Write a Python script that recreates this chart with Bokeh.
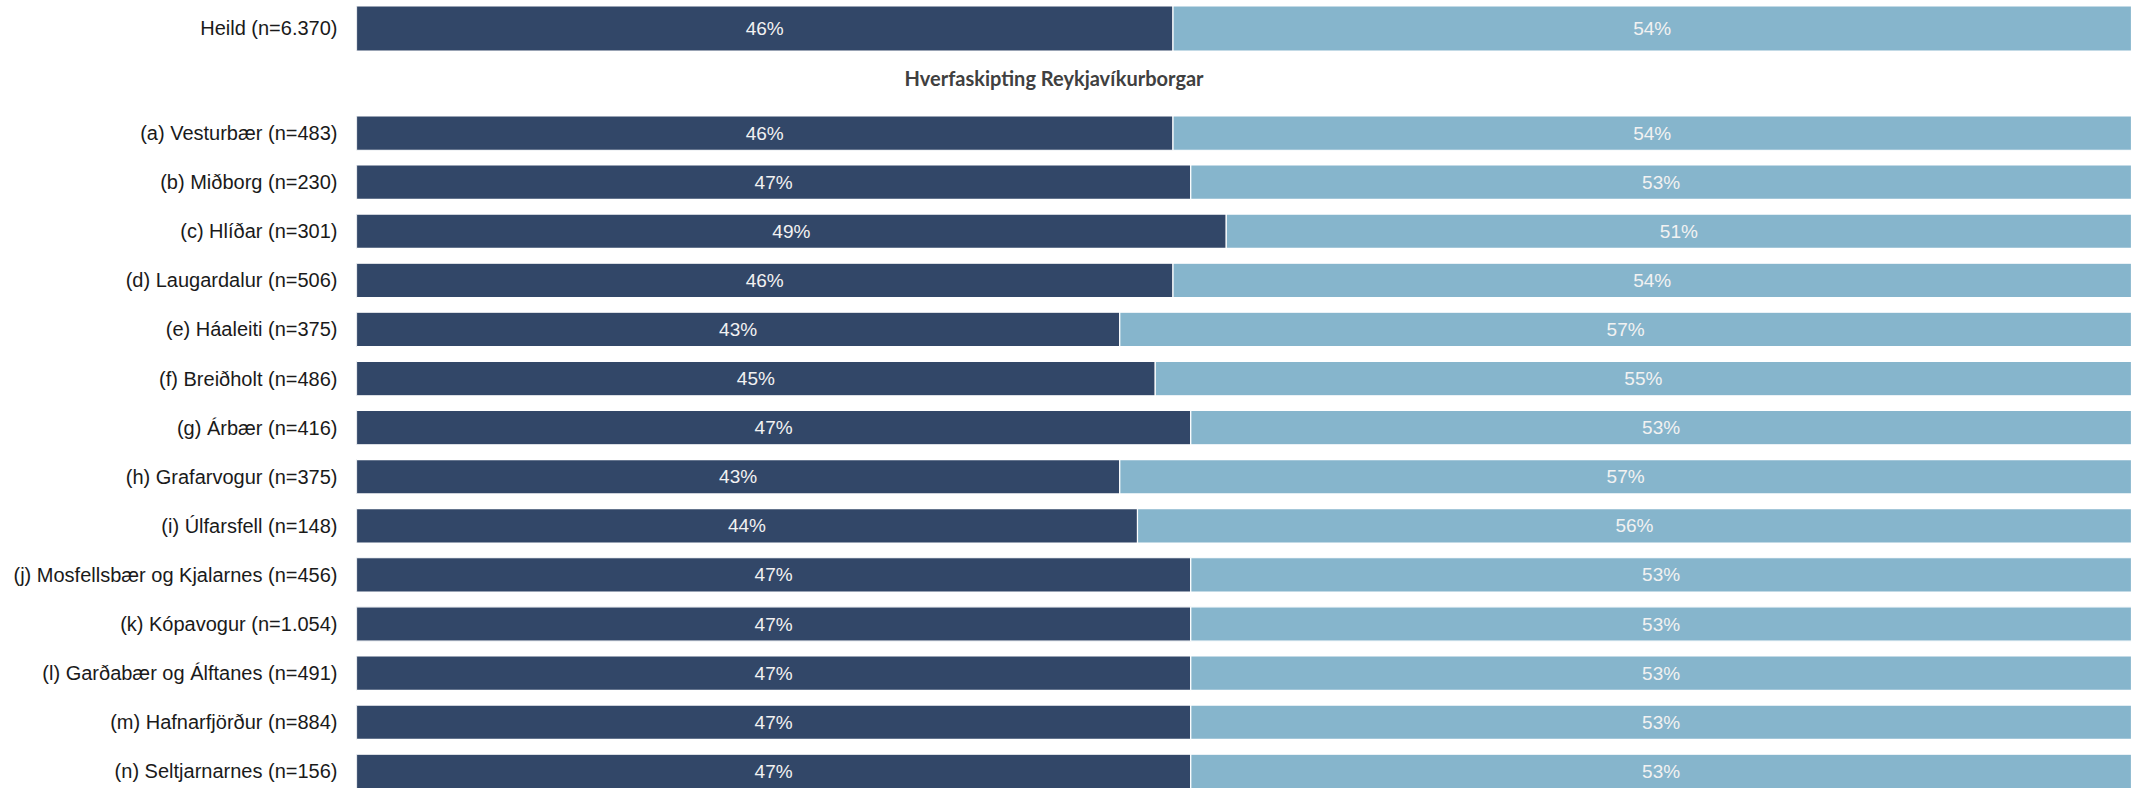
from bokeh.plotting import figure
from bokeh.models import ColumnDataSource, Range1d, FixedTicker, Label
from bokeh.core.properties import value
from bokeh.embed import file_html
from bokeh.resources import INLINE

# ---- data ----
total_label = "Heild (n=6.370)"
total_dark = 46
total_light = 54
section_title = "Hverfaskipting Reykjavíkurborgar"
districts = [
    "(a) Vesturbær (n=483)",
    "(b) Miðborg (n=230)",
    "(c) Hlíðar (n=301)",
    "(d) Laugardalur (n=506)",
    "(e) Háaleiti (n=375)",
    "(f) Breiðholt (n=486)",
    "(g) Árbær (n=416)",
    "(h) Grafarvogur (n=375)",
    "(i) Úlfarsfell (n=148)",
    "(j) Mosfellsbær og Kjalarnes (n=456)",
    "(k) Kópavogur (n=1.054)",
    "(l) Garðabær og Álftanes (n=491)",
    "(m) Hafnarfjörður (n=884)",
    "(n) Seltjarnarnes (n=156)",
]
dark_share = [46, 47, 49, 46, 43, 45, 47, 43, 44, 47, 47, 47, 47, 47]
light_share = [54, 53, 51, 54, 57, 55, 53, 57, 56, 53, 53, 53, 53, 53]

DARK = "#324768"
LIGHT = "#86B5CC"

# ---- layout (row units) ----
heild_y = -2.13
rows = list(range(len(districts)))

labels = [total_label] + districts
ys = [heild_y] + rows
dark = [total_dark] + dark_share
light = [total_light] + light_share
heights = [0.917] + [0.70] * len(districts)

src = ColumnDataSource(dict(
    y=ys,
    h=heights,
    dark=dark,
    light=light,
    total=[a + b for a, b in zip(dark, light)],
    dark_mid=[a / 2 for a in dark],
    light_mid=[a + b / 2 for a, b in zip(dark, light)],
    dark_txt=[f"{a}%" for a in dark],
    light_txt=[f"{b}%" for b in light],
))

p = figure(
    width=2131, height=788,
    x_range=Range1d(0, 100), y_range=Range1d(13.35, -2.70),
    output_backend="svg", toolbar_location=None,
    min_border_left=356, min_border_right=0, min_border_top=0, min_border_bottom=0,
)
p.outline_line_color = None
p.grid.visible = False
p.xaxis.visible = False

p.hbar(y="y", height="h", left=0, right="dark", source=src,
       fill_color=DARK, line_color="white", line_width=1.2)
p.hbar(y="y", height="h", left="dark", right="total", source=src,
       fill_color=LIGHT, line_color="white", line_width=1.2)

p.text(x="dark_mid", y="y", text="dark_txt", source=src,
       text_align="center", text_baseline="middle",
       text_font=value("Liberation Sans"), text_font_size="19px",
       text_color="#F2F2F2")
p.text(x="light_mid", y="y", text="light_txt", source=src,
       text_align="center", text_baseline="middle",
       text_font=value("Liberation Sans"), text_font_size="19px",
       text_color="#F2F2F2")

yax = p.yaxis[0]
yax.ticker = FixedTicker(ticks=ys)
yax.major_label_overrides = {float(y): lab for y, lab in zip(ys, labels)}
yax.axis_line_color = None
yax.major_tick_line_color = None
yax.minor_tick_line_color = None
yax.major_tick_out = 0
yax.major_tick_in = 0
yax.major_label_standoff = 19
yax.major_label_text_font = "Liberation Sans"
yax.major_label_text_font_size = "20px"
yax.major_label_text_color = "#1a1a1a"

p.add_layout(Label(
    x=39.3, y=-1.12, text=section_title,
    text_align="center", text_baseline="middle",
    text_font="Lato", text_font_style="bold", text_font_size="20px",
    text_color="#404040",
))

open("out.html", "w").write(file_html(p, INLINE))
